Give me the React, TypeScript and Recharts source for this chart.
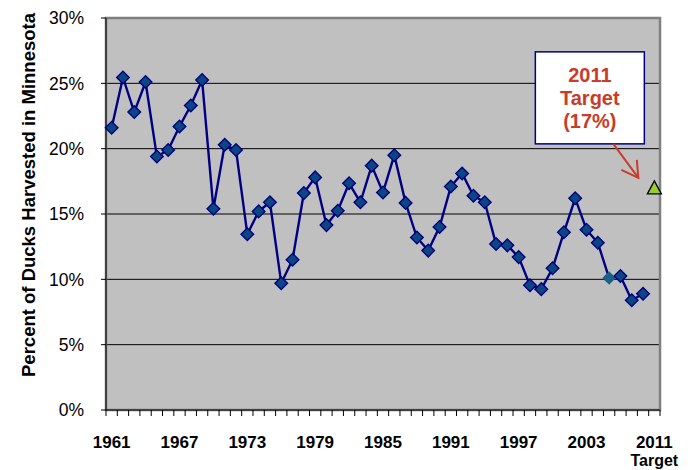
import React from "react";
import {
  ComposedChart,
  Line,
  XAxis,
  YAxis,
  CartesianGrid,
  ReferenceArea,
  ReferenceDot,
} from "recharts";

const FONT = "'Liberation Sans', Arial, sans-serif";

// harvest seasons shown on the category axis; the final slot is the 2011 target
const years = [
  1961, 1962, 1963, 1964, 1965, 1966, 1967, 1968, 1969, 1970, 1971, 1972,
  1973, 1974, 1975, 1976, 1977, 1978, 1979, 1980, 1981, 1982, 1983, 1984,
  1985, 1986, 1987, 1988, 1989, 1990, 1991, 1992, 1993, 1994, 1995, 1996,
  1997, 1998, 1999, 2000, 2001, 2002, 2003, 2004, 2005, 2006, 2007, 2008,
];

// percent of ducks harvested in Minnesota, one value per season
const harvestPct = [
  21.6, 25.45, 22.8, 25.1, 19.4, 19.9, 21.7, 23.3, 25.25, 15.4, 20.3, 19.9,
  13.45, 15.2, 15.9, 9.7, 11.5, 16.6, 17.8, 14.15, 15.25, 17.35, 15.9, 18.7,
  16.65, 19.5, 15.85, 13.2, 12.2, 14.0, 17.1, 18.1, 16.4, 15.9, 12.7, 12.6,
  11.7, 9.55, 9.25, 10.85, 13.6, 16.2, 13.8, 12.8, 10.1, 10.25, 8.4, 8.9,
];

const targetLabel = "2011";
const targetSub = "Target";
const targetPct = 17;

const yTicks = [0, 5, 10, 15, 20, 25, 30];
const labelEvery = 6;
// season whose marker is drawn without an outline
const highlightYear = 2005;

const data = [
  ...years.map((year, i) => ({ idx: i, year: String(year), pct: harvestPct[i] })),
  { idx: years.length, year: targetLabel, target: targetPct },
];

const lastIdx = data.length - 1;
const xTicks: number[] = [];
for (let i = 0; i <= data.length * 2; i++) xTicks.push(i / 2 - 0.5);

function YearTick(props: any) {
  const { x, y, payload } = props;
  const v = payload.value as number;
  if (!Number.isInteger(v)) {
    return <line x1={x} x2={x} y1={y} y2={y + 6} stroke="#000" strokeWidth={1} />;
  }
  if (v % labelEvery !== 0) return null;
  const row = data[v];
  return (
    <g>
      <text
        x={x}
        y={y + 38}
        textAnchor="middle"
        fontFamily={FONT}
        fontSize={17}
        fontWeight="bold"
        fill="#000"
      >
        {row.year}
      </text>
      {v === lastIdx && (
        <text
          x={x}
          y={y + 56}
          textAnchor="middle"
          fontFamily={FONT}
          fontSize={16}
          fontWeight="bold"
          fill="#000"
        >
          {targetSub}
        </text>
      )}
    </g>
  );
}

function Diamond(props: any) {
  const { cx, cy, payload } = props;
  if (cx == null || cy == null || payload.pct == null) return null;
  const plain = payload.year === String(highlightYear);
  const r = plain ? 6.8 : 6.3;
  const pts = `${cx},${cy - r} ${cx + r},${cy} ${cx},${cy + r} ${cx - r},${cy}`;
  return (
    <polygon
      key={`d-${payload.idx}`}
      points={pts}
      fill={plain ? "#1A5F86" : "#0A4682"}
      stroke={plain ? "none" : "#000080"}
      strokeWidth={1.4}
    />
  );
}

function Triangle(props: any) {
  const { cx, cy, payload } = props;
  if (cx == null || cy == null || payload.target == null) return null;
  const pts = `${cx},${cy - 7} ${cx + 7},${cy + 6} ${cx - 7},${cy + 6}`;
  return (
    <polygon
      key="target"
      points={pts}
      fill="#99CC33"
      stroke="#000"
      strokeWidth={1.3}
    />
  );
}

// text box with an arrow pointing at the target marker
function TargetCallout(props: any) {
  const { cx, cy } = props;
  if (cx == null || cy == null) return null;
  const left = cx - 119;
  const top = cy - 136;
  const w = 109;
  const h = 92;
  const mid = left + w / 2;
  const tipX = cx - 16;
  const tipY = cy - 10;
  const red = "#C83C28";
  return (
    <g>
      <rect x={left} y={top} width={w} height={h} fill="#fff" stroke="#000080" strokeWidth={1.5} />
      <text textAnchor="middle" fontFamily={FONT} fontSize={20} fontWeight="bold" fill={red}>
        <tspan x={mid} y={top + 30}>2011</tspan>
        <tspan x={mid} y={top + 53}>Target</tspan>
        <tspan x={mid} y={top + 76}>(17%)</tspan>
      </text>
      <line x1={cx - 41} y1={top + h} x2={tipX} y2={tipY} stroke={red} strokeWidth={2} />
      <polyline
        points={`${tipX - 17},${tipY - 8} ${tipX},${tipY} ${tipX - 1.5},${tipY - 18}`}
        fill="none"
        stroke={red}
        strokeWidth={2}
      />
    </g>
  );
}

export default function App() {
  return (
    <div style={{ position: "absolute", left: 0, top: 0, width: 688, height: 470, background: "#fff" }}>
      <div
        style={{
          position: "absolute",
          left: 29,
          top: 195,
          transform: "translate(-50%, -50%) rotate(-90deg)",
          whiteSpace: "nowrap",
          fontFamily: FONT,
          fontSize: 18.5,
          fontWeight: "bold",
          color: "#000",
        }}
      >
        Percent of Ducks Harvested in Minnesota
      </div>
      <ComposedChart
        width={688}
        height={470}
        data={data}
        margin={{ top: 18, right: 28, bottom: 0, left: 0 }}
      >
        <CartesianGrid vertical={false} stroke="#000" strokeOpacity={1} fill="#C0C0C0" fillOpacity={1} />
        <ReferenceArea
          x1={-0.5}
          x2={lastIdx + 0.5}
          y1={0}
          y2={30}
          fill="none"
          stroke="#808080"
          strokeWidth={2.5}
          ifOverflow="visible"
        />
        <XAxis
          dataKey="idx"
          type="number"
          domain={[-0.5, lastIdx + 0.5]}
          ticks={xTicks}
          interval={0}
          height={60}
          tickSize={0}
          tickMargin={0}
          tickLine={false}
          axisLine={{ stroke: "#000", strokeWidth: 1 }}
          tick={<YearTick />}
          allowDecimals
        />
        <YAxis
          domain={[0, 30]}
          ticks={yTicks}
          width={106}
          tickSize={5}
          tickMargin={17}
          tickFormatter={(v) => `${v}%`}
          tick={{ fontSize: 17.5, fill: "#000", fontFamily: FONT }}
          tickLine={{ stroke: "#000" }}
          axisLine={{ stroke: "#000", strokeWidth: 1 }}
        />
        <Line
          dataKey="pct"
          stroke="#000080"
          strokeWidth={2.4}
          dot={<Diamond />}
          activeDot={false}
          isAnimationActive={false}
        />
        <Line
          dataKey="target"
          stroke="none"
          dot={<Triangle />}
          activeDot={false}
          isAnimationActive={false}
        />
        <ReferenceDot x={lastIdx} y={targetPct} shape={<TargetCallout />} ifOverflow="visible" />
      </ComposedChart>
    </div>
  );
}
